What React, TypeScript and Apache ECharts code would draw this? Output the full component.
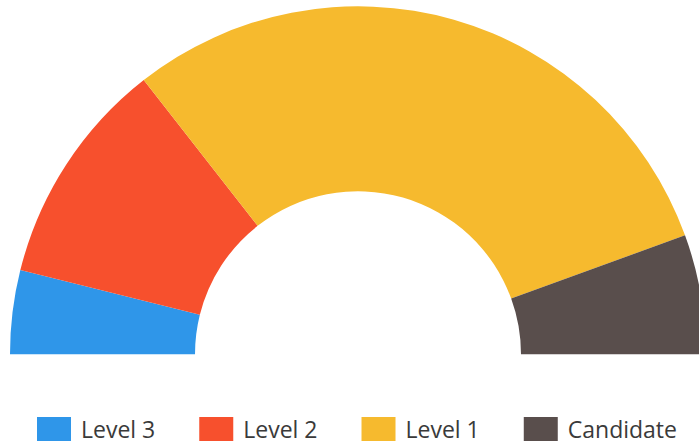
import React, { useEffect, useRef } from "react";
import * as echarts from "echarts";

const categories = ["Level 3", "Level 2", "Level 1", "Candidate"];
const values = [7, 19, 54, 10];
const colors = ["#2F96E9", "#F7502D", "#F6BA2E", "#594E4C"];

export default function App() {
  const ref = useRef<HTMLDivElement>(null);
  useEffect(() => {
    if (!ref.current) return;
    const chart = echarts.init(ref.current, null, { renderer: "svg" });
    chart.setOption({
      animation: false,
      backgroundColor: "#ffffff",
      color: colors,
      legend: {
        data: categories,
        left: 37,
        top: 417,
        padding: 0,
        itemWidth: 34,
        itemHeight: 24,
        itemGap: 44,
        icon: "rect",
        selectedMode: false,
        textStyle: {
          fontFamily: "Open Sans",
          fontSize: 23,
          lineHeight: 24,
          color: "#3a3a3a",
          padding: [0, 0, 0, 5],
        },
      },
      series: [
        {
          type: "pie",
          center: [358, 354.3],
          radius: [163, 348],
          startAngle: 180,
          endAngle: 0,
          clockwise: true,
          label: { show: false },
          labelLine: { show: false },
          emphasis: { disabled: true },
          silent: true,
          itemStyle: { borderWidth: 0 },
          data: categories.map((name, i) => ({ name, value: values[i] })),
        },
      ],
    });
    return () => chart.dispose();
  }, []);
  return (
    <div
      ref={ref}
      style={{ position: "fixed", left: 0, top: 0, width: 699, height: 445 }}
    />
  );
}
